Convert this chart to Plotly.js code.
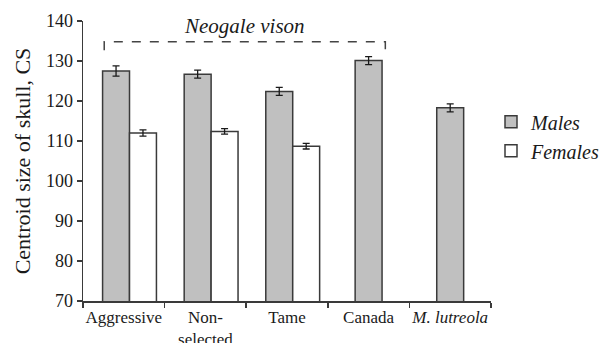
<!DOCTYPE html>
<html>
<head>
<meta charset="utf-8">
<script src="https://cdn.plot.ly/plotly-3.0.1.min.js"></script>
<style>
  html, body { margin: 0; padding: 0; background: #fff; }
  #chart { width: 601px; height: 343px; }
</style>
</head>
<body>
<div id="chart"></div>
<script>
// ---- data ----
const categories = ["Aggressive", "Non-<br>selected", "Tame", "Canada", "<i>M. lutreola</i>"];
const malesCS   = [127.5, 126.7, 122.4, 130.1, 118.3];
const malesSE   = [1.3, 1.0, 1.0, 1.0, 1.0];
const femalesCS = [112.0, 112.4, 108.7, null, null];
const femalesSE = [0.8, 0.7, 0.7, null, null];
const groupLabel = "Neogale vison";
const groupCount = 4; // first four categories are N. vison
const seriesNames = ["Males", "Females"];

// ---- layout helpers ----
const W = 0.33;       // bar width in category units
const SHIFT = 0.07;   // pairs drawn slightly right of category centre
const hasFemale = femalesCS.map(v => v !== null);
const maleOffset = hasFemale.map(h => h ? -W + SHIFT : -W / 2);
const femaleOffset = hasFemale.map(h => h ? SHIFT : 0);

const FONT = "Liberation Serif";
const INK = "#1a1a1a";
const EDGE = "#3a3a3a";

const males = {
  type: "bar", name: seriesNames[0],
  x: categories, y: malesCS,
  width: W, offset: maleOffset,
  marker: { color: "#c0c0c0", line: { color: EDGE, width: 1.5 } },
  error_y: { type: "data", array: malesSE, visible: true, color: INK, thickness: 1.3, width: 3.5 }
};
const females = {
  type: "bar", name: seriesNames[1],
  x: categories, y: femalesCS,
  width: W, offset: femaleOffset,
  marker: { color: "#ffffff", line: { color: EDGE, width: 1.5 } },
  error_y: { type: "data", array: femalesSE, visible: true, color: INK, thickness: 1.3, width: 3.5 }
};

// bracket over the N. vison groups, derived from bar geometry
const bx0 = 0 - W + SHIFT + 0.02;
const bx1 = (groupCount - 1) + W / 2 + 0.04;
const byTop = 134.8, byBot = 132.7;

const layout = {
  width: 601, height: 343,
  margin: { l: 83, r: 110, t: 21, b: 42, autoexpand: false },
  paper_bgcolor: "#fff", plot_bgcolor: "#fff",
  barmode: "overlay",
  font: { family: FONT, color: INK, size: 17 },
  showlegend: true,
  legend: {
    x: 1.0, xanchor: "left", y: 0.71, yanchor: "top",
    font: { family: FONT, size: 20, color: INK, style: "italic" },
    bgcolor: "rgba(0,0,0,0)", tracegroupgap: 10
  },
  xaxis: {
    type: "category", range: [-0.5, categories.length - 0.5],
    showline: true, linecolor: EDGE, linewidth: 1.5,
    ticks: "outside", tickson: "boundaries", ticklen: 5, tickcolor: EDGE, tickwidth: 1.5,
    tickangle: 0,
    tickfont: { family: FONT, size: 17, color: INK },
    showgrid: false, zeroline: false, fixedrange: true
  },
  yaxis: {
    range: [70, 140], dtick: 10, tick0: 70,
    showline: true, linecolor: EDGE, linewidth: 1.5,
    ticks: "outside", ticklen: 5, tickcolor: EDGE, tickwidth: 1.5,
    tickfont: { family: FONT, size: 18, color: INK },
    showgrid: false, zeroline: false, fixedrange: true,
    title: { text: "Centroid size of skull, CS", font: { family: FONT, size: 22, color: INK }, standoff: 9 }
  },
  shapes: [{
    type: "path", xref: "x", yref: "y",
    path: `M ${bx0} ${byBot} L ${bx0} ${byTop} L ${bx1} ${byTop} L ${bx1} ${byBot}`,
    line: { color: "#444", width: 1.5, dash: "dash" }
  }],
  annotations: [{
    xref: "x", yref: "y", x: (bx0 + bx1) / 2, y: byTop, yanchor: "bottom", yshift: 2,
    text: "<i>" + groupLabel + "</i>", showarrow: false,
    font: { family: FONT, size: 21, color: INK }
  }]
};

Plotly.newPlot("chart", [males, females], layout, { displayModeBar: false, staticPlot: true });
</script>
</body>
</html>
